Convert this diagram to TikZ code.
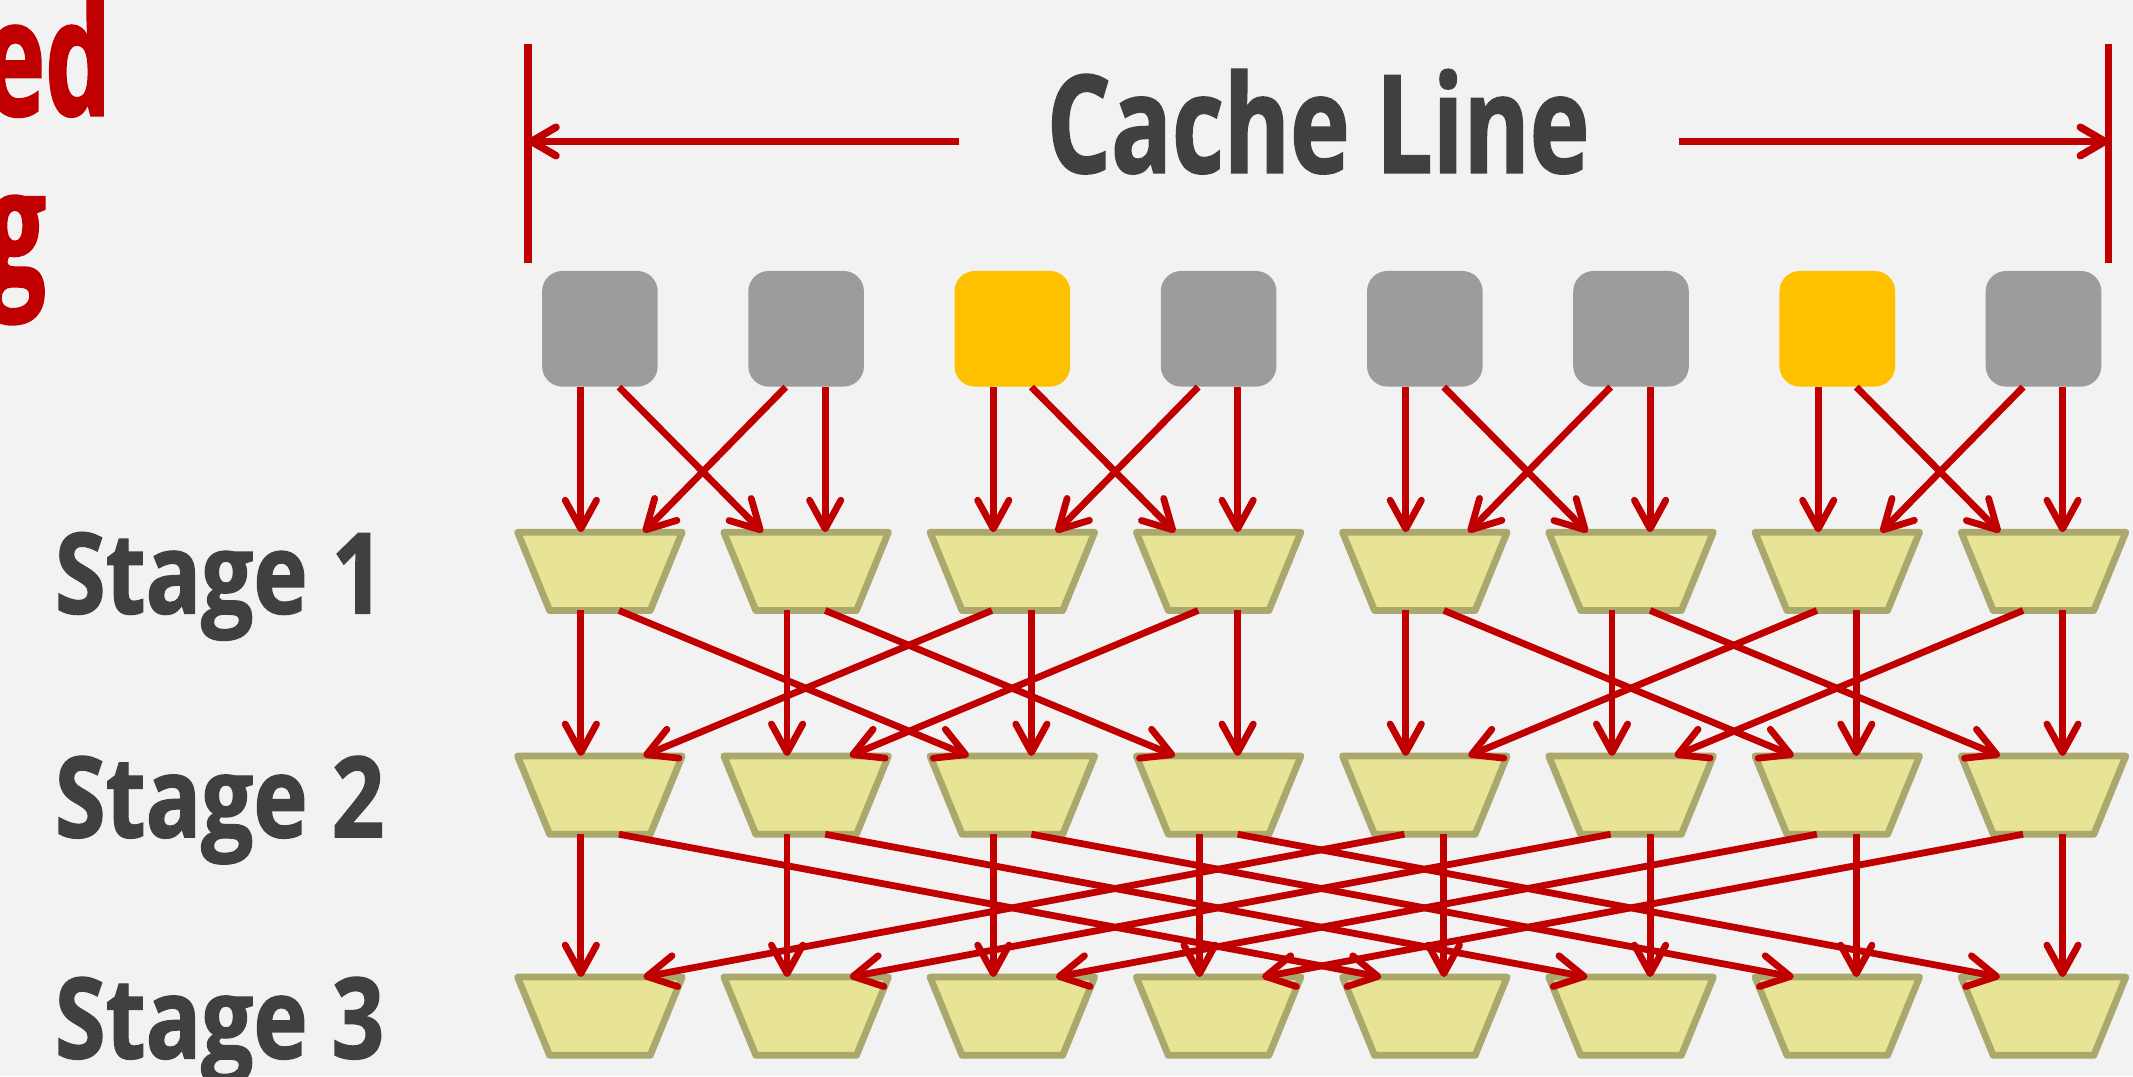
\documentclass[tikz,border=0pt]{standalone}
\usepackage{fontspec}
\usepackage{tikz}
\usetikzlibrary{arrows.meta}
\usetikzlibrary{calc}
\newfontfamily\headfont{Open Sans}[FakeStretch=0.74, FakeBold=1.2]
\newfontfamily\stagefont{Open Sans}[FakeStretch=0.82, FakeBold=1.2]
\newfontfamily\titlefont{Open Sans}[FakeStretch=0.64, FakeBold=1.2]

\definecolor{bgcol}{HTML}{F2F2F2}
\definecolor{wirered}{HTML}{C00000}
\definecolor{cellgray}{HTML}{9C9C9C}
\definecolor{cellgold}{HTML}{FFC000}
\definecolor{muxfill}{HTML}{E8E496}
\definecolor{muxedge}{HTML}{ABA86E}
\definecolor{textgray}{HTML}{404040}

\tikzset{
  cell/.style={rectangle, rounded corners=3mm, minimum width=17mm, minimum height=17mm, inner sep=0pt},
  muxbox/.style={rectangle, minimum width=24.2mm, minimum height=11.5mm, inner sep=0pt, outer sep=0pt},
  mux/.style={draw=muxedge, fill=muxfill, line width=1mm, line join=round},
  wire/.style={wirered, line width=1mm, -{Straight Barb[length=4.2mm, width=4.6mm, round]}},
  dimline/.style={wirered, line width=1.1mm, -{Straight Barb[length=3.6mm, width=4.2mm, round]}},
  dimbar/.style={wirered, line width=1.1mm},
  stagelabel/.style={anchor=base west, inner sep=0pt, text=textgray, font=\stagefont\bfseries\fontsize{47}{50}\selectfont},
  titlepart/.style={anchor=base east, inner sep=0pt, text=wirered, font=\titlefont\bfseries\fontsize{68}{72}\selectfont},
}

\begin{document}
\begin{tikzpicture}[x=0.2mm, y=-0.2mm]
  \fill[bgcol] (0,0) rectangle (1568,791);
  \useasboundingbox (0,0) rectangle (1568,791);

  % title, cut at the left edge
  \node[titlepart] (ttl1) at (82,85) {ed};
  \node[titlepart] (ttl2) at (34,210) {g};

  % width of one cache line
  \draw[dimbar] (388,32) -- (388,193.5);
  \draw[dimbar] (1550,32) -- (1550,193.5);
  \node[anchor=base, inner sep=0pt, text=textgray, font=\headfont\bfseries\fontsize{57}{60}\selectfont] (cline) at (969,127) {Cache Line};
  \coordinate (ltail) at (705,104);
  \coordinate (lhead) at (388,104);
  \coordinate (rtail) at (1234,104);
  \coordinate (rhead) at (1550,104);
  \draw[dimline] (ltail) -- (lhead);
  \draw[dimline] (rtail) -- (rhead);

  % words of the line
  \foreach \i/\col in {0/cellgray,1/cellgray,2/cellgold,3/cellgray,4/cellgray,5/cellgray,6/cellgold,7/cellgray}
    \node[cell, fill=\col] (c\i) at ({441+151.6*\i},241.7) {};

  % three rows of muxes
  \foreach \r/\y in {1/420,2/584.5,3/747} {
    \node[stagelabel] (stage\r) at (40,{\y+31}) {Stage \r};
    \foreach \i in {0,...,7} {
      \node[muxbox] (m\r-\i) at ({441+151.6*\i},\y) {};
      \draw[mux] (m\r-\i.north west) -- (m\r-\i.north east)
        -- ($(m\r-\i.south east)+(-23.5,0)$) -- ($(m\r-\i.south west)+(23.5,0)$) -- cycle;
    }
  }

  % butterfly wiring, distance 1, 2, 4
  \foreach \src/\dst/\d in {c/m1-/1, m1-/m2-/2, m2-/m3-/4} {
    \foreach \i in {0,...,7} {
      \pgfmathtruncatemacro\side{mod(floor(\i/\d),2)}
      \ifnum\side=0
        \pgfmathtruncatemacro\j{\i+\d}
        \draw[wire] ($(\src\i.south)+(-14,0)$) -- ($(\dst\i.north)+(-14,0)$);
        \draw[wire] ($(\src\i.south)+(14,0)$) -- ($(\dst\j.north)+(-32,0)$);
      \else
        \pgfmathtruncatemacro\j{\i-\d}
        \draw[wire] ($(\src\i.south)+(-15,0)$) -- ($(\dst\j.north)+(32,0)$);
        \draw[wire] ($(\src\i.south)+(14,0)$) -- ($(\dst\i.north)+(14,0)$);
      \fi
    }
  }
\end{tikzpicture}
\end{document}
